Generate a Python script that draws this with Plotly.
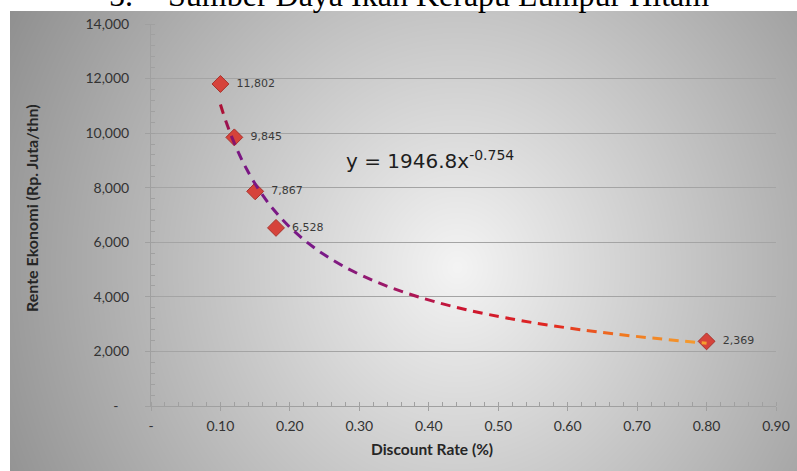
import base64
import struct
import zlib
import numpy as np
import plotly.graph_objects as go

# ---------------- data ----------------
rates = [0.10, 0.12, 0.15, 0.18, 0.80]
rente = [11802, 9845, 7867, 6528, 2369]
point_labels = ["11,802", "9,845", "7,867", "6,528", "2,369"]

fit_coef = 1946.8
fit_exp = -0.754

x_ticks = [0.0, 0.1, 0.2, 0.3, 0.4, 0.5, 0.6, 0.7, 0.8, 0.9]
x_tick_text = ["-", "0.10", "0.20", "0.30", "0.40", "0.50", "0.60", "0.70", "0.80", "0.90"]
y_ticks = [0, 2000, 4000, 6000, 8000, 10000, 12000, 14000]
y_tick_text = ["-\u00a0\u00a0\u00a0", "2,000", "4,000", "6,000", "8,000", "10,000", "12,000", "14,000"]

title_num = "5."
title_text = "Sumber Daya Ikan Kerapu Lumpur Hitam"
x_title = "Discount Rate (%)"
y_title = "Rente Ekonomi (Rp. Juta/thn)"
eq_text = "y = 1946.8x<sup>-0.754</sup>"

# ---------------- layout constants ----------------
W, H = 797, 471
ML, MR, MT, MB = 151, 21, 24, 65
PW, PH = W - ML - MR, H - MT - MB
X_MAX, Y_MAX = 0.9, 14000
BG_X0, BG_Y0 = 10, 11


def paper_x(px):
    return (px - ML) / PW


def paper_y(py):
    return (H - MB - py) / PH


# ---------------- background gradient (PNG) ----------------
def make_png(gray):
    h, w = gray.shape
    raw = b"".join(b"\x00" + gray[i].tobytes() for i in range(h))

    def chunk(tag, data):
        c = struct.pack(">I", len(data)) + tag + data
        return c + struct.pack(">I", zlib.crc32(tag + data) & 0xFFFFFFFF)

    return (b"\x89PNG\r\n\x1a\n"
            + chunk(b"IHDR", struct.pack(">IIBBBBB", w, h, 8, 0, 0, 0, 0))
            + chunk(b"IDAT", zlib.compress(raw, 9))
            + chunk(b"IEND", b""))


bw, bh = W - BG_X0, H - BG_Y0
yy, xx = np.mgrid[0:bh, 0:bw]
cx, cy = 457 - BG_X0, 267 - BG_Y0
d = np.sqrt(((xx - cx) / 447.0) ** 2 + ((yy - cy) / 480.0) ** 2)
gray = np.clip(244 - 88 * d, 140, 255).astype(np.uint8)
bg_src = "data:image/png;base64," + base64.b64encode(make_png(gray)).decode()

# ---------------- figure ----------------
fig = go.Figure()

fig.add_trace(go.Scatter(
    x=rates, y=rente, mode="markers+text",
    text=["\u00a0\u00a0" + t for t in point_labels], textposition="middle right",
    textfont=dict(family="DejaVu Sans", size=11, color="#3a3a3a"),
    marker=dict(symbol="diamond", size=13, color="#d6433b",
                line=dict(color="#a8322b", width=1)),
    hoverinfo="x+y", showlegend=False,
))

# power trendline, dashed with colour gradient (drawn dash by dash)
xs = np.linspace(min(rates), max(rates), 3000)
ys = fit_coef * xs ** fit_exp
sx, sy = PW / X_MAX, PH / Y_MAX
pxs, pys = xs * sx, ys * sy
seg = np.hypot(np.diff(pxs), np.diff(pys))
s = np.concatenate([[0], np.cumsum(seg)])

stops = [(0.10, (176, 16, 48)), (0.125, (122, 22, 130)), (0.25, (122, 26, 136)),
         (0.35, (160, 24, 100)), (0.45, (204, 21, 48)), (0.58, (226, 40, 32)),
         (0.68, (240, 120, 32)), (0.80, (245, 160, 48))]


def color_at(xv):
    for (x0, c0), (x1, c1) in zip(stops[:-1], stops[1:]):
        if xv <= x1:
            t = max(0.0, min(1.0, (xv - x0) / (x1 - x0)))
            c = [int(round(a + (b - a) * t)) for a, b in zip(c0, c1)]
            return "rgb(%d,%d,%d)" % tuple(c)
    return "rgb(%d,%d,%d)" % stops[-1][1]


DASH, GAP = 10.0, 6.5
start = 0.0
while start < s[-1]:
    end = min(start + DASH, s[-1])
    m = (s >= start) & (s <= end)
    if m.sum() >= 2:
        xm, ym = xs[m], ys[m]
        fig.add_trace(go.Scatter(
            x=xm, y=ym, mode="lines",
            line=dict(color=color_at(float(xm.mean())), width=3),
            hoverinfo="skip", showlegend=False,
        ))
    start += DASH + GAP

fig.add_layout_image(dict(
    source=bg_src, xref="paper", yref="paper",
    x=paper_x(BG_X0), y=paper_y(BG_Y0), sizex=bw / PW, sizey=bh / PH,
    xanchor="left", yanchor="top", sizing="stretch", layer="below",
))

axis_font = dict(family="Lato", size=14, color="#333333")
tick_col = "#a0a0a0"

fig.update_layout(
    width=W, height=H,
    margin=dict(l=ML, r=MR, t=MT, b=MB, autoexpand=False),
    paper_bgcolor="white", plot_bgcolor="rgba(0,0,0,0)",
    xaxis=dict(
        range=[0, X_MAX], tickvals=x_ticks, ticktext=x_tick_text, automargin=False,
        showgrid=False, zeroline=False, showline=True, linecolor=tick_col, linewidth=1,
        ticks="outside", ticklen=4, tickcolor=tick_col, ticklabelstandoff=3,
        minor=dict(dtick=0.02, ticks="inside", ticklen=4, tickcolor=tick_col, showgrid=False),
        tickfont=axis_font,
    ),
    yaxis=dict(
        range=[0, Y_MAX], tickvals=y_ticks, ticktext=y_tick_text, automargin=False,
        showgrid=True, gridcolor="#a4a4a4", gridwidth=1,
        zeroline=False, showline=True, linecolor=tick_col, linewidth=1,
        ticks="outside", ticklen=5, tickcolor=tick_col,
        minor=dict(dtick=400, ticks="inside", ticklen=4, tickcolor=tick_col, showgrid=False),
        tickfont=axis_font, ticklabelstandoff=13,
    ),
    annotations=[
        dict(text=title_num, xref="paper", yref="paper", x=paper_x(107), y=paper_y(15),
             xanchor="left", yanchor="bottom", showarrow=False,
             font=dict(family="Liberation Serif", size=32, color="black")),
        dict(text=title_text, xref="paper", yref="paper", x=paper_x(166), y=paper_y(15),
             xanchor="left", yanchor="bottom", showarrow=False,
             font=dict(family="Liberation Serif", size=32, color="black")),
        dict(text=eq_text, xref="x", yref="y", x=0.278, y=9000,
             xanchor="left", yanchor="middle", showarrow=False,
             font=dict(family="DejaVu Sans", size=20, color="#1e1e1e")),
        dict(text="<b>" + x_title + "</b>", xref="paper", yref="paper",
             x=paper_x(432), y=paper_y(449), xanchor="center", yanchor="middle",
             showarrow=False, font=dict(family="Lato", size=15.5, color="#262626")),
        dict(text="<b>" + y_title + "</b>", xref="paper", yref="paper",
             x=paper_x(32), y=paper_y(208), xanchor="center", yanchor="middle",
             textangle=-90, showarrow=False, font=dict(family="Lato", size=16, color="#262626")),
    ],
)

fig.write_html("out.html", config={"displayModeBar": False},
               post_script="document.body.style.margin='0';")
